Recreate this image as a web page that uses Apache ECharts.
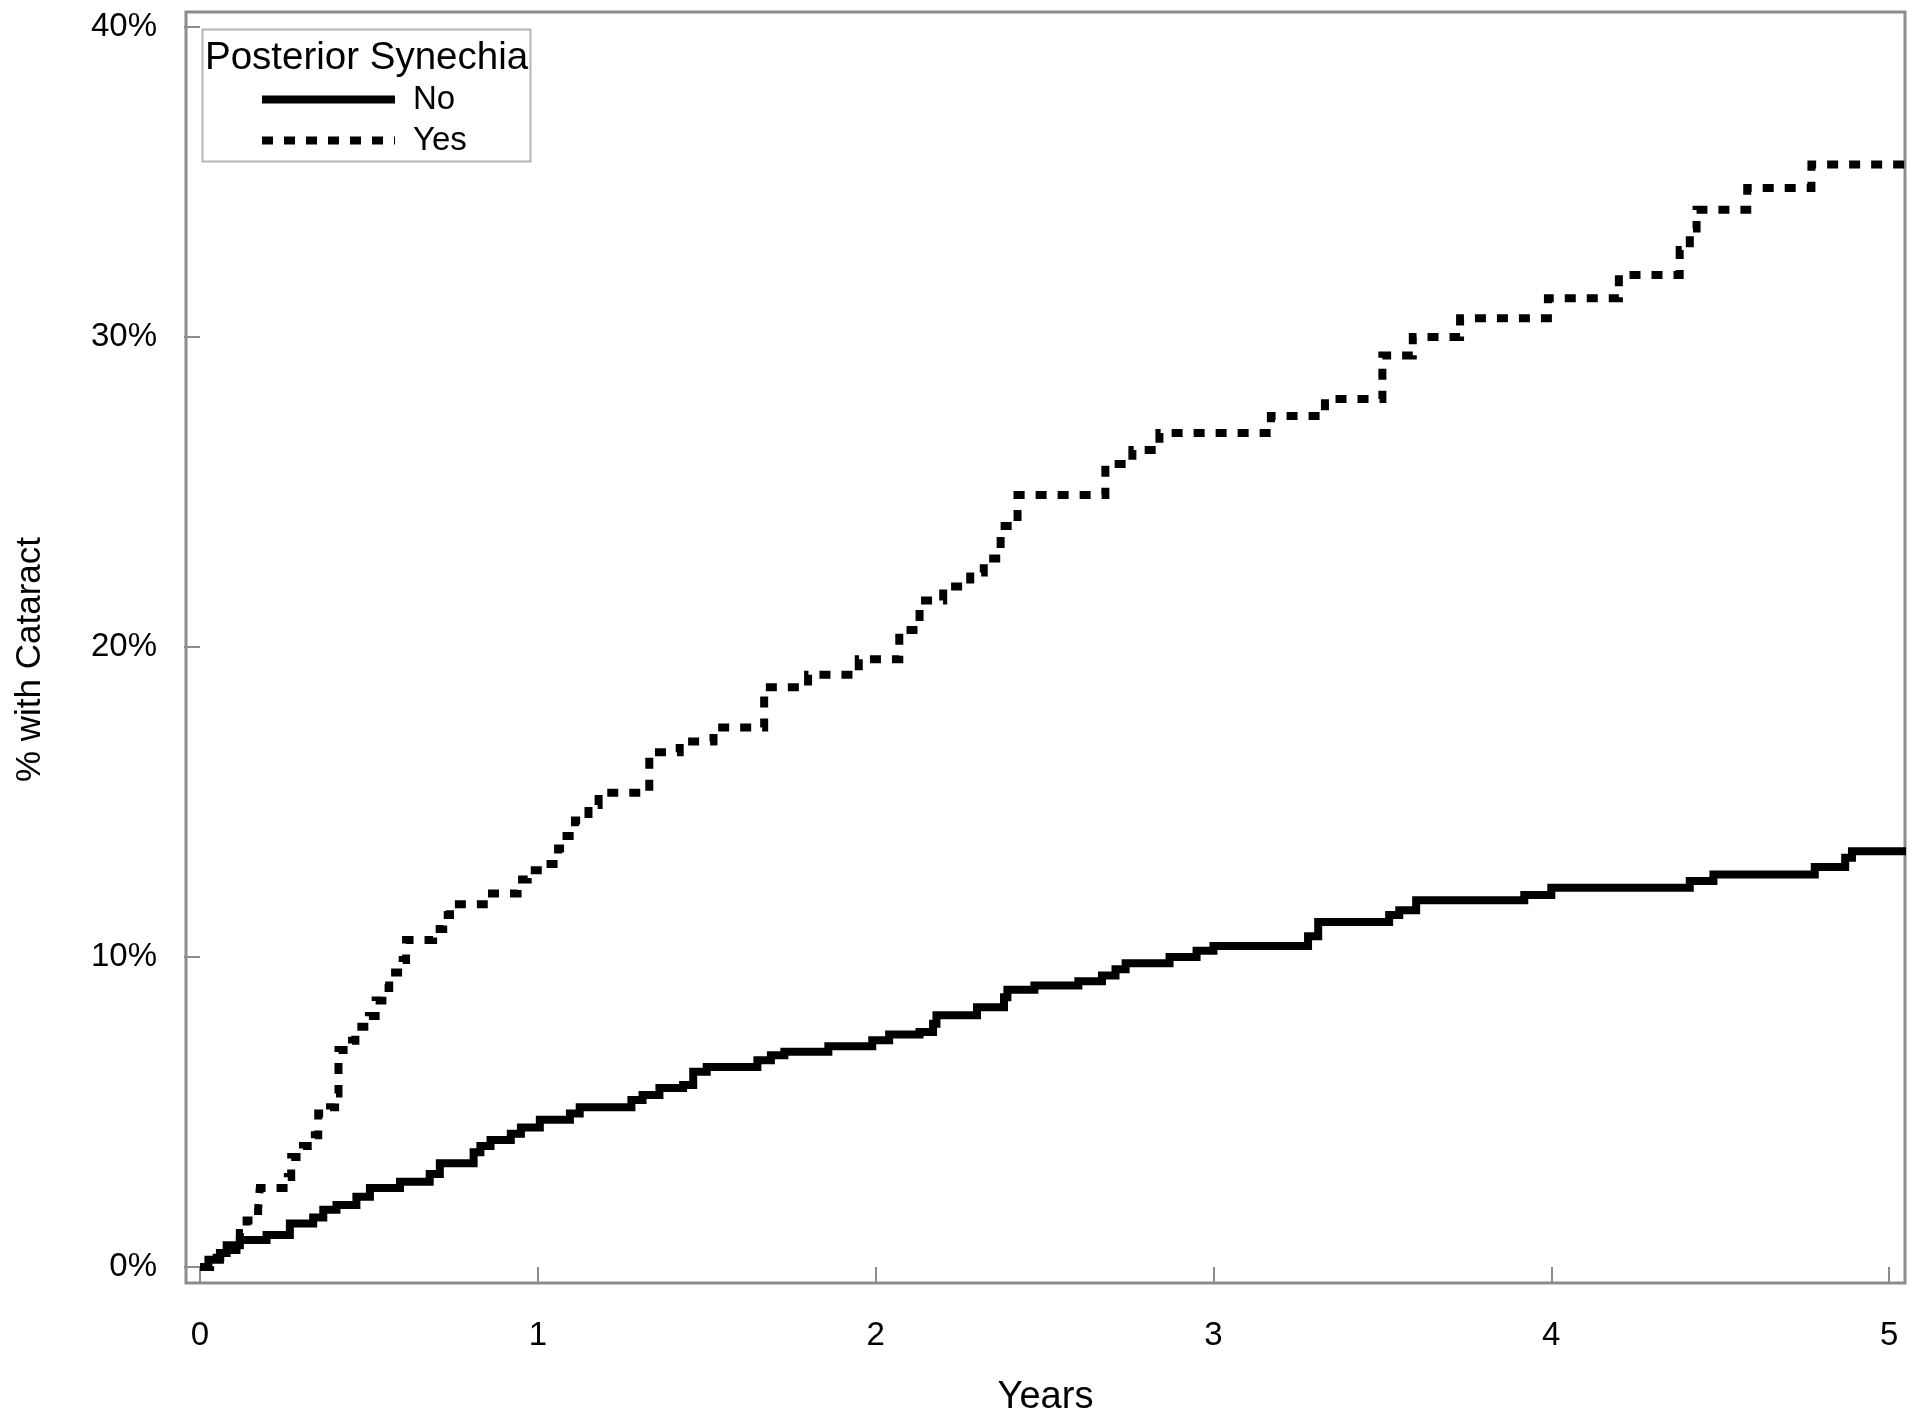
<!DOCTYPE html>
<html><head><meta charset="utf-8">
<script src="https://cdn.jsdelivr.net/npm/echarts@6/dist/echarts.min.js"></script>
<style>html,body{margin:0;padding:0;background:#fff}#c{width:1920px;height:1422px}</style>
</head><body><div id="c"></div>
<script>
const xTicks = [0, 1, 2, 3, 4, 5];
const yTicks = [0, 10, 20, 30, 40];
const seriesNames = ['No', 'Yes'];
const legendTitle = 'Posterior Synechia';
const xName = 'Years';
const yName = '% with Cataract';

const noTimes = [0,0.025,0.059,0.079,0.118,0.197,0.266,0.335,0.365,0.404,0.463,0.503,0.592,0.68,0.71,0.81,0.83,0.86,0.92,0.95,1.006,1.095,1.124,1.277,1.31,1.36,1.43,1.46,1.50,1.65,1.69,1.73,1.86,1.99,2.04,2.13,2.17,2.18,2.30,2.38,2.39,2.47,2.60,2.67,2.71,2.74,2.87,2.95,3.0,3.28,3.31,3.52,3.55,3.60,3.92,4.0,4.41,4.48,4.78,4.87,4.89,5.05];
const noPct = [0,0.23,0.45,0.7,0.87,1.03,1.4,1.6,1.85,2.0,2.27,2.55,2.75,3.0,3.35,3.7,3.9,4.1,4.3,4.5,4.75,4.95,5.15,5.39,5.55,5.77,5.87,6.3,6.45,6.67,6.83,6.94,7.12,7.31,7.5,7.58,7.85,8.12,8.38,8.7,8.94,9.08,9.22,9.4,9.6,9.8,10.0,10.2,10.35,10.67,11.13,11.35,11.51,11.83,12.0,12.23,12.45,12.66,12.9,13.2,13.41,13.41];

const yesTimes = [0,0.03,0.06,0.108,0.118,0.138,0.172,0.177,0.26,0.27,0.305,0.34,0.35,0.385,0.40,0.41,0.45,0.46,0.50,0.52,0.54,0.56,0.60,0.61,0.69,0.72,0.74,0.84,0.94,0.97,1.02,1.06,1.085,1.11,1.15,1.18,1.33,1.42,1.52,1.67,1.80,1.95,2.07,2.13,2.20,2.28,2.32,2.37,2.42,2.68,2.76,2.84,3.17,3.33,3.50,3.59,3.73,3.99,4.20,4.38,4.41,4.43,4.58,4.77,5.05];
const yesPct = [0,0.3,0.55,0.8,1.1,1.5,1.85,2.55,2.9,3.55,3.9,4.25,4.95,5.15,5.6,7.0,7.3,7.75,8.1,8.6,9.0,9.5,9.9,10.55,10.9,11.35,11.7,12.05,12.5,12.8,13.0,13.5,13.9,14.4,14.9,15.3,16.6,16.95,17.4,18.7,19.1,19.6,20.55,21.5,21.95,22.4,22.85,23.9,24.9,25.9,26.35,26.9,27.45,28.0,29.4,30.0,30.6,31.25,32.0,32.8,33.5,34.1,34.8,35.56,35.56];

const FONT = '"Liberation Sans", Arial, sans-serif';
const AXIS_GRAY = '#8c8c8c';
const zip = (a, b) => a.map((v, i) => [v, b[i]]);

const chart = echarts.init(document.getElementById('c'), null, {renderer: 'canvas'});
chart.setOption({
  animation: false,
  backgroundColor: '#fff',
  grid: {left: 186, top: 12, width: 1719, height: 1271, show: true, borderColor: AXIS_GRAY, borderWidth: 3, backgroundColor: 'transparent'},
  title: {text: legendTitle, left: 200, top: 34, textStyle: {fontFamily: FONT, fontSize: 38.5, fontWeight: 'normal', color: '#000'}},
  legend: {
    orient: 'vertical', left: 253, top: 78, itemWidth: 133, itemHeight: 10, itemGap: 8,
    data: seriesNames, selectedMode: false,
    itemStyle: {opacity: 0},
    lineStyle: {width: 8, cap: 'butt'},
    textStyle: {fontFamily: FONT, fontSize: 33, color: '#000', padding: [0, 0, 0, 13]}
  },
  graphic: [{type: 'rect', left: 200, top: 27, z: 100, shape: {width: 328, height: 132}, style: {fill: 'none', stroke: '#b4b4b4', lineWidth: 2}}],
  xAxis: {
    type: 'value', min: -0.0414, max: 5.047,
    name: xName, nameLocation: 'middle', nameGap: 96,
    nameTextStyle: {fontFamily: FONT, fontSize: 38, color: '#000'},
    axisLine: {show: false},
    axisTick: {show: true, customValues: xTicks, length: 16, lineStyle: {color: AXIS_GRAY, width: 2}},
    axisLabel: {customValues: xTicks, margin: 36, fontFamily: FONT, fontSize: 33, color: '#000', formatter: v => String(v)},
    splitLine: {show: false}
  },
  yAxis: {
    type: 'value', min: -0.516, max: 40.48,
    name: yName, nameLocation: 'middle', nameGap: 138,
    nameTextStyle: {fontFamily: FONT, fontSize: 35, color: '#000', padding: [0, 24, 0, 0]},
    axisLine: {show: false},
    axisTick: {show: true, customValues: yTicks, length: 16, lineStyle: {color: AXIS_GRAY, width: 2}},
    axisLabel: {customValues: yTicks, margin: 29, fontFamily: FONT, fontSize: 33, color: '#000', formatter: v => v + '%'},
    splitLine: {show: false}
  },
  series: [
    {name: seriesNames[0], type: 'line', step: 'end', symbol: 'none', showSymbol: false, data: zip(noTimes, noPct),
     lineStyle: {color: '#000', width: 8, type: 'solid', cap: 'butt', join: 'miter'}, itemStyle: {color: '#000'}},
    {name: seriesNames[1], type: 'line', step: 'end', symbol: 'none', showSymbol: false, data: zip(yesTimes, yesPct),
     lineStyle: {color: '#000', width: 8, type: [11, 11], cap: 'butt', join: 'miter'}, itemStyle: {color: '#000'}}
  ]
});
</script></body></html>
